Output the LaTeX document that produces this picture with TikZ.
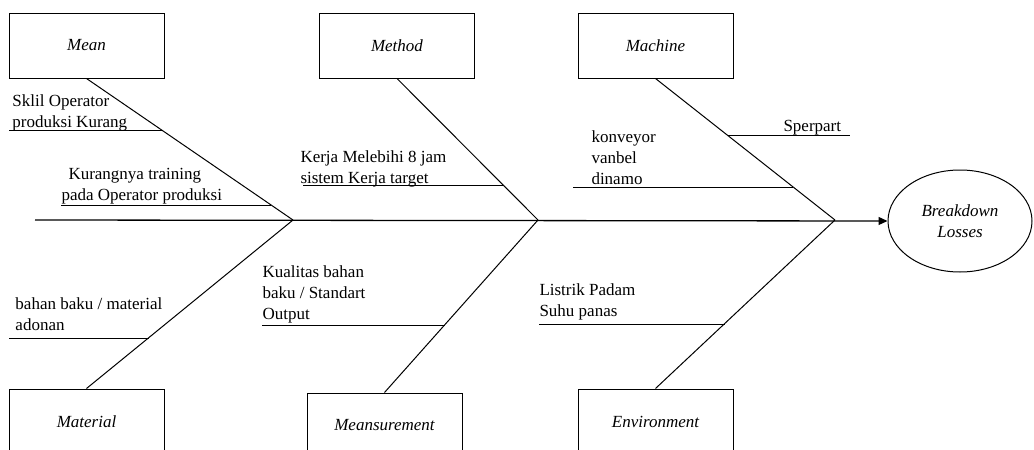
\documentclass[tikz,border=0pt]{standalone}
\usepackage{fontspec}
\setmainfont{Liberation Serif}
\usetikzlibrary{arrows.meta,shapes.geometric}

\begin{document}
\begin{tikzpicture}[x=1pt,y=-1pt,line width=1pt,
        font=\fontsize{17}{21}\selectfont,
        catbox/.style={draw,minimum width=155pt,minimum height=65pt,inner sep=0pt,font=\fontsize{17}{21}\selectfont\itshape},
        causetext/.style={anchor=south west,align=left,inner xsep=0pt,inner ysep=1pt,text depth=4pt}]
        \useasboundingbox (0,0) rectangle (1034,450);
        \clip (0,0) rectangle (1034,450);
        % category boxes
        \node[catbox] (mean) at (86.5,45.5) {Mean};
        \node[catbox] (method) at (397,45.5) {Method};
        \node[catbox] (machine) at (655.5,45.5) {Machine};
        \node[catbox] (material) at (86.5,421.5) {Material};
        \node[catbox] (measure) at (384.5,425.5) {Meansurement};
        \node[catbox] (environ) at (655.5,421.5) {Environment};
        % effect
        \node[draw,ellipse,minimum width=144pt,minimum height=102pt,inner sep=0pt,align=center,font=\fontsize{17}{21}\selectfont\itshape] (effect) at (960,221) {Breakdown\\Losses};
        % spine
        \coordinate (tail) at (35,220);
        \coordinate (jmean) at (293,220);
        \coordinate (jmethod) at (538,220);
        \coordinate (jmachine) at (835,220);
        \draw[line width=1.3pt,-{Triangle[length=9pt,width=8pt]}] (tail) -- (effect.west);
        \draw (mean.south) -- (jmean);
        \draw (material.north) -- (jmean);
        \draw (method.south) -- (jmethod);
        \draw (measure.north) -- (jmethod);
        \draw (machine.south) -- (jmachine);
        \draw (environ.north) -- (jmachine);
        % causes
        \coordinate (c1a) at (9,130);    \coordinate (c1b) at (162,130);
        \coordinate (c2a) at (61,205);   \coordinate (c2b) at (271,205);
        \coordinate (c3a) at (303,185);  \coordinate (c3b) at (503,185);
        \coordinate (c4a) at (728,135);  \coordinate (c4b) at (850,135);
        \coordinate (c5a) at (573,187);  \coordinate (c5b) at (793,187);
        \coordinate (c6a) at (9,338);    \coordinate (c6b) at (149,338);
        \coordinate (c7a) at (262,325);  \coordinate (c7b) at (445,325);
        \coordinate (c8a) at (539,324);  \coordinate (c8b) at (725,324);
        \draw (c1a) -- (c1b);
        \draw (c2a) -- (c2b);
        \draw (c3a) -- (c3b);
        \draw (c4a) -- (c4b);
        \draw (c5a) -- (c5b);
        \draw (c6a) -- (c6b);
        \draw (c7a) -- (c7b);
        \draw (c8a) -- (c8b);
        \node[causetext] (t1) at (12,133) {Sklil Operator\\produksi Kurang};
        \node[causetext] (t2) at (61,206) {\hspace{7pt}Kurangnya training\\pada Operator produksi};
        \node[causetext] (t3) at (300,189) {Kerja Melebihi 8 jam\\sistem Kerja target};
        \node[causetext] (t4) at (783,137) {Sperpart};
        \node[causetext] (t5) at (591,190) {konveyor\\vanbel\\dinamo};
        \node[causetext] (t6) at (15,336) {bahan baku / material\\adonan};
        \node[causetext] (t7) at (262,325) {Kualitas bahan\\baku / Standart\\Output};
        \node[causetext] (t8) at (539,322) {Listrik Padam\\Suhu panas};
    \end{tikzpicture}
\end{document}
